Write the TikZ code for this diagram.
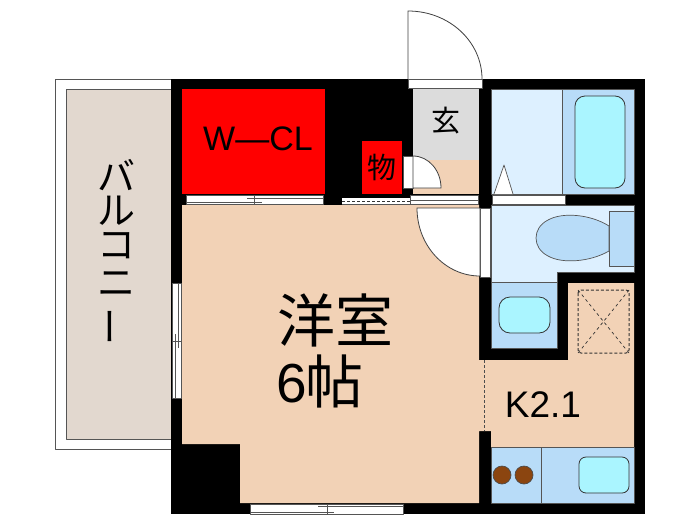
\documentclass[tikz,border=0pt]{standalone}
\usepackage{fontspec}
\setmainfont{Liberation Sans}
\newfontfamily\cjk{Noto Sans CJK JP}
\usepackage{graphicx}
\definecolor{peach}{HTML}{F2D2B6}
\definecolor{hallgrey}{HTML}{DCDCDC}
\definecolor{bathpale}{HTML}{DDF0FF}
\definecolor{fixblue}{HTML}{B8DCF8}
\definecolor{tubcyan}{HTML}{AAF5FF}
\definecolor{balcony}{HTML}{E2D8CF}
\definecolor{stove}{HTML}{8B4510}
\definecolor{edge}{HTML}{555555}

\begin{document}
\begin{tikzpicture}[x=1pt,y=-1pt,line join=round,
  wall/.style={fill=black},
  room/.style={fill=#1},
  fixture/.style={draw=edge,line width=.7pt,fill=#1},
  basin/.style={draw=black!80,line width=.8pt,fill=tubcyan,rounded corners=#1},
  sash/.style={draw=edge,line width=.8pt,fill=white},
  rail/.style={draw=edge,line width=.8pt},
  swing/.style={draw=black!75,line width=.8pt,fill=white},
  label/.style={inner sep=0pt,text=black}]

  \useasboundingbox (0,0) rectangle (700,525);

  % balcony
  \draw[fixture=white] (171,79) -- (55,79) -- (55,449) -- (171,449);
  \draw[fixture=balcony] (171,89) -- (66,89) -- (66,439) -- (171,439);

  % walls, rooms are cut out of them
  \fill[wall] (171,79) rectangle (645,514);
  \fill[room=red] (182,89) rectangle (325,194);
  \fill[room=red] (362,141) rectangle (402,194);
  \fill[room=hallgrey] (413,89) rectangle (479,160);
  \fill[room=peach] (413,160) rectangle (479,194);
  \fill[room=peach] (182,205) -- (479,205) -- (479,360) -- (491,360) -- (568,360)
    -- (568,283) -- (634,283) -- (634,447) -- (491,447) -- (491,431) -- (479,431)
    -- (479,503) -- (240,503) -- (240,444) -- (182,444) -- cycle;

  % bath and toilet
  \draw[fixture=bathpale] (491,89) rectangle (562,194);
  \draw[fixture=fixblue] (562,89) rectangle (634,194);
  \draw[basin=10pt] (575,96) rectangle (625,188);
  \draw[fixture=white] (494,194) -- (504,165) -- (513,194);
  \draw[fixture=bathpale] (491,205) -- (634,205) -- (634,272) -- (557,272) -- (557,282)
    -- (491,282) -- cycle;
  \draw[fixture=fixblue] (609,211) rectangle (634,266);
  \draw[fixture=fixblue] (609,226) .. controls (590,214) and (562,212) .. (548,220)
    .. controls (532,228) and (532,248) .. (548,256)
    .. controls (562,264) and (590,262) .. (609,251) -- cycle;

  % wash basin
  \draw[fixture=fixblue] (491,282) rectangle (557,348);
  \draw[basin=11pt] (499,297) rectangle (550,333);

  % kitchen
  \draw[fixture=fixblue] (491,447) rectangle (541,503);
  \draw[fixture=fixblue] (541,447) rectangle (634,503);
  \draw[fixture=stove,draw=black!70] (502,475) circle (9);
  \draw[fixture=stove,draw=black!70] (524,475) circle (9);
  \draw[basin=7pt] (579,457) rectangle (629,493);
  \draw[densely dashed,line width=1pt,black!80,rounded corners=3pt] (578,290) rectangle (629,353);
  \draw[dashed,line width=.7pt,black!80] (578,290) -- (629,353) (629,290) -- (578,353);
  \draw[densely dashed,line width=.8pt,black!70] (484.5,360) -- (484.5,431);

  % doors
  \draw[swing] (408,79) -- (408,11) .. controls (449,11) and (482,41.4) .. (482,79);
  \draw[sash] (408,79) rectangle (482,88.5);
  \draw[sash] (403,156) rectangle (413,188);
  \draw[swing] (413,188) -- (413,156) .. controls (428.5,156) and (441,170.3) .. (441,188) -- cycle;
  \draw[sash] (480,208) rectangle (490,277);
  \draw[swing] (480,276) -- (480,208) -- (417,208) .. controls (417,245.6) and (445.2,276) .. (480,276);
  \draw[sash] (492,195) rectangle (565,204);

  % sliding doors and windows
  \draw[sash] (186,195) rectangle (323,204);
  \draw[rail] (186,202) -- (262,202) (247,198) -- (323,198) (254,195) -- (254,204);
  \draw[sash] (410,195) rectangle (478,204);
  \fill[white] (342,198) rectangle (410,204);
  \draw[rail] (342,204) -- (478,204) (410,200.5) -- (478,200.5);
  \draw[densely dashed,line width=1pt,black!80] (342,201) -- (410,201);
  \draw[sash] (172,283) rectangle (181,398);
  \draw[rail] (178,283) -- (178,348) (175,334) -- (175,398) (172,341) -- (181,341);
  \draw[sash] (250,504) rectangle (403,514);
  \draw[rail] (250,512) -- (334,512) (318,506) -- (403,506) (327,504) -- (327,514);

  % labels
  \node[label,font=\fontsize{34}{34}\selectfont] (wcl) at (258,139) {W—CL};
  \node[label,font=\fontsize{29}{29}\cjk] (mono) at (382,167) {物};
  \node[label,font=\fontsize{29}{29}\cjk] (genkan) at (446,121) {玄};
  \node[label,font=\fontsize{58}{58}\cjk] (yoshitsu) at (335.5,320) {洋室};
  \node[label,font=\fontsize{55}{55}\selectfont,anchor=base west] (six) at (276,402) {6};
  \node[label,font=\fontsize{58}{58}\cjk,anchor=west] (jo) at (305,381) {帖};
  \node[label,font=\fontsize{37}{37}\selectfont] (kitchen) at (543,405) {K2.1};
  \node[label,font=\fontsize{38}{38}\cjk] (ba) at (116,175) {バ};
  \node[label,font=\fontsize{38}{38}\cjk] (ru) at (116,211) {ル};
  \node[label,font=\fontsize{38}{38}\cjk] (ko) at (116,246) {コ};
  \node[label,font=\fontsize{38}{38}\cjk] (ni) at (116,284) {ニ};
  \node[label,font=\fontsize{38}{38}\cjk,rotate=90] (bar) at (116,326) {ー};
\end{tikzpicture}
\end{document}
